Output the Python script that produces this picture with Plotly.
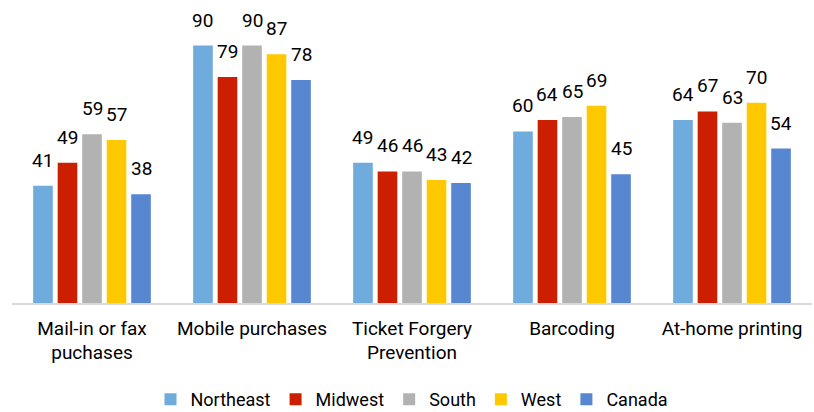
import plotly.graph_objects as go

# Categories and series values
categories = ['Mail-in or fax<br>puchases', 'Mobile purchases', 'Ticket Forgery<br>Prevention',
              'Barcoding', 'At-home printing']
series_names = ['Northeast', 'Midwest', 'South', 'West', 'Canada']
northeast = [41, 90, 49, 60, 64]
midwest = [49, 79, 46, 64, 67]
south = [59, 90, 46, 65, 63]
west = [57, 87, 43, 69, 70]
canada = [38, 78, 42, 45, 54]
colors = ['#6FABDC', '#CC1F00', '#B2B2B2', '#FFC800', '#5687D0']

all_values = [northeast, midwest, south, west, canada]

font_family = 'Roboto, Noto Sans, sans-serif'

fig = go.Figure()
for name, vals, col in zip(series_names, all_values, colors):
    fig.add_trace(go.Bar(x=categories, y=vals, name=name, marker_color=col,
                         marker_line_width=0))

# value labels above the bars (offset per series inside the group)
plot_w = 814 - 12 - 2
slot = plot_w / len(categories) * (1 - 0.234) / len(series_names)
annotations = []
for i, vals in enumerate(all_values):
    for cat, v in zip(categories, vals):
        annotations.append(dict(
            x=cat, y=v, text=str(v), showarrow=False,
            xshift=(i - 2) * slot, yshift=12, yanchor='bottom',
            font=dict(family=font_family, size=19, color='#000000')
        ))

fig.update_layout(
    width=814, height=412,
    margin=dict(l=12, r=2, t=17, b=109, autoexpand=False),
    barmode='group', bargap=0.234, bargroupgap=0.2,
    plot_bgcolor='white', paper_bgcolor='white',
    font=dict(family=font_family, size=18, color='#000000'),
    annotations=annotations,
    showlegend=True,
    legend=dict(orientation='h', x=0.5, xanchor='center', y=-0.338, yanchor='middle',
                font=dict(size=18), itemwidth=30, traceorder='normal'),
    xaxis=dict(showline=True, linecolor='#D9D9D9', linewidth=1.5, ticks='',
               showgrid=False, tickfont=dict(size=19), automargin=False,
               ticklabelstandoff=7),
    yaxis=dict(range=[0, 100], visible=False, showgrid=False, zeroline=False),
)

# drop the default page margin so the figure fills the window
fig.write_html("out.html", config={'displayModeBar': False},
               post_script="document.body.style.margin='0px';")
